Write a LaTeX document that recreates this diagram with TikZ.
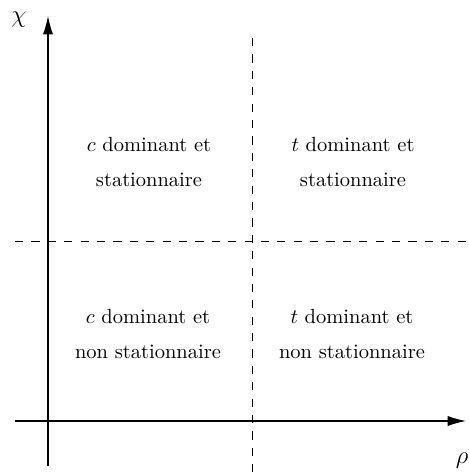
\documentclass[tikz,border=0pt]{standalone}
\usepackage{amsmath,amssymb}
\usepackage{tikz}
\usetikzlibrary{arrows.meta,positioning,calc}

\begin{document}
\begin{tikzpicture}[x=0.488pt, y=0.488pt,
  axis/.style={line width=0.55pt, -{Latex[length=9pt,width=5pt]}},
  split/.style={line width=0.4pt, dash pattern=on 4pt off 4pt},
  zone/.style={align=center, inner sep=0pt},
  axlbl/.style={font=\large, inner sep=0pt}]
\useasboundingbox (0,0) rectangle (469,475);
\coordinate (ybot) at (48,9);
\coordinate (ytop) at (48,459);
\coordinate (xleft) at (15,54);
\coordinate (xright) at (466,54);
\coordinate (vtop) at (252,437);
\coordinate (vbot) at (252,0);
\coordinate (hleft) at (15,234);
\coordinate (hright) at (469,234);
\draw[axis] (ybot) -- (ytop);
\draw[axis] (xleft) -- (xright);
\draw[split] (vtop) -- (vbot);
\draw[split] (hleft) -- (hright);
\node[axlbl] (chi) at (19,455) {$\chi$};
\node[axlbl] (rho) at (462,14) {$\rho$};
\node[zone] (cstat)  at (149,313) {$c$ dominant et\\[4.6pt]stationnaire};
\node[zone] (tstat)  at (353,313) {$t$ dominant et\\[4.6pt]stationnaire};
\node[zone] (cnstat) at (148,141) {$c$ dominant et\\[4.6pt]non stationnaire};
\node[zone] (tnstat) at (352,141) {$t$ dominant et\\[4.6pt]non stationnaire};
\end{tikzpicture}
\end{document}
